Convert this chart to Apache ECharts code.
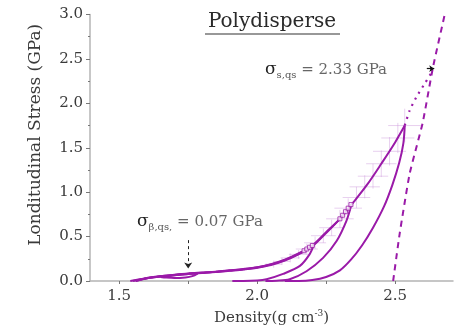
<!DOCTYPE html>
<html><head><meta charset="utf-8">
<script src="https://cdn.jsdelivr.net/npm/echarts@6/dist/echarts.min.js"></script>
<style>html,body{margin:0;padding:0;background:#fff}#c{width:456px;height:336px}</style>
</head><body><div id="c"></div>
<script>
// ---- data (density g/cm3, stress GPa) ----
var load4D = [1.54,1.60,1.65,1.70,1.75,1.80,1.85,1.90,1.95,2.00,2.05,2.10,2.15,2.20,2.25,2.30,2.35,2.40,2.45,2.50,2.535];
var load4S = [0.0,0.03,0.05,0.065,0.08,0.09,0.10,0.115,0.13,0.15,0.18,0.23,0.30,0.39,0.54,0.70,0.89,1.09,1.32,1.56,1.75];
var unload4D = [2.535,2.530,2.515,2.49,2.46,2.42,2.38,2.34,2.30,2.25,2.20,2.15,2.10];
var unload4S = [1.75,1.55,1.33,1.08,0.84,0.60,0.40,0.24,0.12,0.045,0.01,0.0,0.0];

var load3D = [1.55,1.60,1.65,1.70,1.75,1.80,1.85,1.90,1.95,2.00,2.05,2.10,2.15,2.20,2.25,2.30,2.342];
var load3S = [0.0,0.035,0.055,0.07,0.085,0.095,0.105,0.12,0.135,0.155,0.19,0.24,0.31,0.40,0.55,0.70,0.86];
var unload3D = [2.342,2.324,2.288,2.239,2.179,2.118,2.07,2.03];
var unload3S = [0.86,0.68,0.45,0.26,0.11,0.02,0.003,0.0];

var load2D = [1.56,1.60,1.65,1.70,1.75,1.80,1.85,1.90,1.95,2.00,2.05,2.10,2.15,2.205];
var load2S = [0.0,0.03,0.052,0.068,0.082,0.093,0.104,0.118,0.133,0.152,0.185,0.235,0.305,0.40];
var unload2D = [2.205,2.19,2.155,2.094,2.034,2.00,1.95,1.91];
var unload2S = [0.40,0.30,0.17,0.08,0.02,0.005,0.0,0.0];

var load1D = [1.56,1.60,1.65,1.70,1.75,1.785];
var load1S = [0.0,0.03,0.05,0.066,0.08,0.087];
var unload1D = [1.785,1.765,1.74,1.70,1.67,1.65];
var unload1S = [0.087,0.055,0.04,0.033,0.038,0.045];

var markD = [2.17,2.18,2.19,2.20,2.30,2.31,2.32,2.33,2.34];
var markS = [0.34,0.36,0.38,0.40,0.70,0.74,0.78,0.82,0.86];

var errD  = [2.06,2.09,2.12,2.15,2.18,2.21,2.24,2.27,2.30,2.33,2.36,2.39,2.42,2.45,2.48,2.51,2.535];
var errS  = [0.19,0.22,0.26,0.30,0.36,0.43,0.51,0.60,0.70,0.82,0.94,1.06,1.18,1.32,1.46,1.61,1.75];
var errDx = [0.03,0.03,0.035,0.035,0.04,0.04,0.045,0.045,0.05,0.05,0.05,0.055,0.055,0.055,0.06,0.06,0.06];
var errDy = [0.04,0.04,0.05,0.05,0.06,0.07,0.08,0.09,0.10,0.11,0.12,0.13,0.14,0.15,0.16,0.17,0.19];

var qsD = [2.493,2.517,2.553,2.60,2.637,2.68];
var qsS = [0.0,0.54,1.21,1.78,2.40,3.0];
var extD = [2.535,2.553,2.577,2.607,2.637];
var extS = [1.75,1.92,2.07,2.22,2.37];

var xTicks = [1.5,1.75,2.0,2.25,2.5];
var xLabels = [1.5,2.0,2.5];

function zip(a,b){return a.map(function(v,i){return [v,b[i]];});}
var C = '#9a1aa8';
var serif = 'DejaVu Serif';
var TX = '#3a3a3a';

function lineSeries(d,s,extra){
  var o = {type:'line',data:zip(d,s),showSymbol:false,symbol:'none',smooth:0.3,
    lineStyle:{color:C,width:2},silent:true,z:3};
  for (var k in extra) o[k]=extra[k];
  return o;
}
var annRich = {s:{fontSize:17,fontFamily:serif,fill:'#222',lineHeight:22},
        b:{fontSize:10,fontFamily:serif,fill:'#555',padding:[10,0,0,0],lineHeight:22},
        t:{fontSize:15,fontFamily:serif,fill:'#666',lineHeight:22}};

var chart = echarts.init(document.getElementById('c'),null,{renderer:'canvas'});
chart.setOption({
  animation:false,
  backgroundColor:'#fff',
  grid:{left:90,right:3,top:14.5,bottom:55},
  xAxis:{type:'value',min:1.394,max:2.71,
    axisLine:{show:true,lineStyle:{color:'#b4b4b4',width:1.5}},
    axisTick:{show:true,customValues:xTicks,length:3,lineStyle:{color:'#777'}},
    axisLabel:{customValues:xLabels,formatter:function(v){return v.toFixed(1);},
      color:TX,fontFamily:serif,fontSize:15,margin:8},
    splitLine:{show:false},
    name:'Density(g cm{sup|-3})',nameLocation:'middle',nameGap:28,
    nameTextStyle:{color:TX,fontFamily:serif,fontSize:15,
      rich:{sup:{fontSize:9,verticalAlign:'top',padding:[0,0,10,0],color:TX,fontFamily:serif}}}
  },
  yAxis:{type:'value',min:0,max:3,interval:0.5,
    axisLine:{show:true,lineStyle:{color:'#b4b4b4',width:1.5}},
    axisTick:{show:true,length:4,lineStyle:{color:'#777'}},
    minorTick:{show:true,splitNumber:2,length:2,lineStyle:{color:'#777'}},
    axisLabel:{formatter:function(v){return v.toFixed(1);},color:TX,fontFamily:serif,fontSize:15,margin:7},
    splitLine:{show:false},
    name:'Londitudinal Stress (GPa)',nameLocation:'middle',nameGap:46,
    nameTextStyle:{color:TX,fontFamily:serif,fontSize:17,padding:[0,0,0,26]}
  },
  graphic:[
    {type:'text',x:272,y:12,style:{text:'Polydisperse',font:'20px "DejaVu Serif"',fill:'#2a2a2a',align:'center'},z:10},
    {type:'line',shape:{x1:205,y1:34,x2:340,y2:34},style:{stroke:'#333',lineWidth:1.2}},
    {type:'text',x:265,y:59,style:{rich:annRich,text:'{s|σ}{b|s,qs}{t| = 2.33 GPa}'}},
    {type:'text',x:137,y:211,style:{rich:annRich,text:'{s|σ}{b|β,qs,}{t| = 0.07 GPa}'}}
  ],
  series:[
    {type:'custom',silent:true,z:1,
      data:errD.map(function(d,i){return [d,errS[i],errDx[i],errDy[i]];}),
      renderItem:function(params,api){
        var d=api.value(0),s=api.value(1),dx=api.value(2),dy=api.value(3);
        var l=api.coord([d-dx,s]),r=api.coord([d+dx,s]),t=api.coord([d,s+dy]),b=api.coord([d,s-dy]);
        var st={stroke:'rgba(205,150,220,0.45)',lineWidth:1};
        return {type:'group',children:[
          {type:'line',shape:{x1:l[0],y1:l[1],x2:r[0],y2:r[1]},style:st},
          {type:'line',shape:{x1:t[0],y1:t[1],x2:b[0],y2:b[1]},style:st}]};
      }},
    lineSeries(load4D,load4S),
    lineSeries(unload4D,unload4S),
    lineSeries(load3D,load3S),
    lineSeries(unload3D,unload3S),
    lineSeries(load2D,load2S),
    lineSeries(unload2D,unload2S),
    lineSeries(load1D,load1S),
    lineSeries(unload1D,unload1S),
    {type:'scatter',data:zip(markD,markS),symbol:'rect',symbolSize:4,silent:true,z:4,
      itemStyle:{color:'#fff',borderColor:C,borderWidth:1}},
    lineSeries(qsD,qsS,{lineStyle:{color:C,width:2,type:[6,5]},smooth:0.15}),
    lineSeries(extD,extS,{lineStyle:{color:C,width:2.2,type:[2,5]},smooth:0.2,
      markLine:{silent:true,symbol:['none','arrow'],symbolSize:5,label:{show:false},
        lineStyle:{color:'#111',width:1.2,type:'solid'},
        data:[[{coord:[2.615,2.39]},{coord:[2.642,2.39]}]]}}),
    {type:'line',data:[],markLine:{silent:true,symbol:['none','arrow'],symbolSize:6,label:{show:false},
        lineStyle:{color:'#222',width:1,type:[3,3]},
        data:[[{coord:[1.75,0.46]},{coord:[1.75,0.14]}]]}}
  ]
});
</script></body></html>
